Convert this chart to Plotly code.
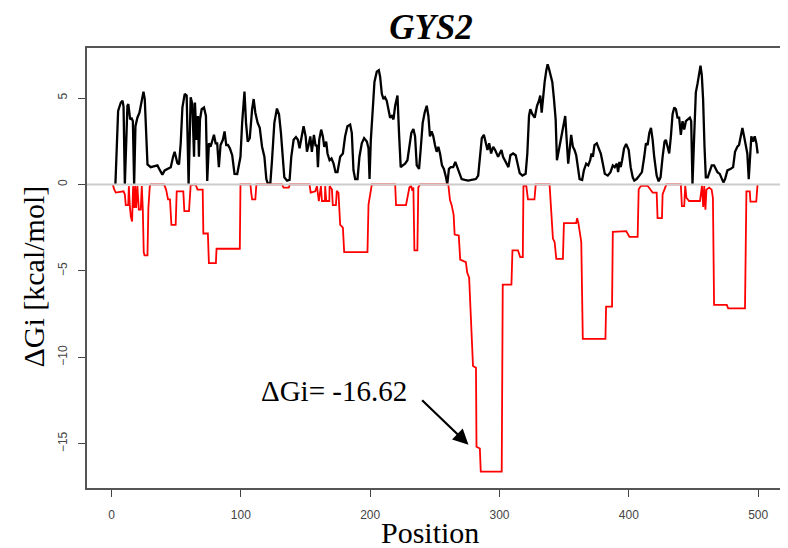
import plotly.graph_objects as go

# hydrophobic moment profile (black) and cumulative dGi profile (red)
black_pos = [3, 5.1, 7.2, 8.5, 9.3, 10.3, 12.3, 13, 14.4, 15.4, 16.5, 17.5, 18.5, 20, 21.6, 23.6, 24.7, 25.7, 26.7, 27.8,
             30.3, 32.9, 35.5, 37.5, 39.3, 41.1, 43.7, 45.8, 47.6, 48.8, 50.9, 52.2, 53.5, 54.8, 56.6, 58.1, 59.6, 61.2,
             62.5, 63.8, 64.5, 65.8, 66.8, 67.6, 68.4, 69.7, 71.5, 73, 74, 75.3, 76.6, 77.9, 79.2, 80.5, 81.7, 83, 84.3,
             86.1, 87.4, 88.7, 90, 91.5, 93.3, 95.1, 97.2, 99.7, 101, 102.8, 104, 105.3, 106.9, 108.7, 109.9, 111.2, 113,
             114.6, 116.4, 118.2, 119.7, 120.8, 122.8, 124.1, 125.9, 127.9, 129.5, 131, 132.3, 133.6, 135.7, 137.7, 139,
             140.8, 142.6, 144.1, 145.4, 146.7, 148.5, 150.1, 151.1, 152.4, 153.7, 154.9, 156.5, 157.8, 158.8, 159.6,
             160.6, 162.1, 163.4, 164.5, 166, 167, 168.6, 170.1, 171.7, 173.2, 174.7, 176.8, 178.9, 180.6, 182.4, 184.5,
             185.8, 187.1, 188.4, 190.2, 191.7, 193.5, 195.3, 197.4, 198.7, 199.5, 200.5, 202, 203.3, 205.1, 206.7, 207.7,
             209, 210.3, 211.5, 212.8, 214.1, 215.4, 216.7, 218, 219.3, 221.1, 222.3, 223.6, 225.2, 227, 228.8, 230.3,
             231.8, 233.4, 234.7, 236, 237.8, 239, 240.6, 242.1, 243.7, 245, 246.2, 247.5, 248.8, 250.1, 251.4, 252.7,
             254, 255.5, 257, 258.6, 259.6, 260.9, 262.4, 264.2, 265.8, 267.3, 268.9, 270.7, 273.2, 275.8, 278.4, 281.7,
             283.5, 284.8, 286.3, 287.9, 289.4, 290.7, 292, 293.5, 295.1, 296.6, 298.9, 300.2, 301.5, 302.7, 304, 305.3,
             306.9, 308.4, 310.5, 312.5, 314.1, 315.6, 317.7, 320.2, 321.5, 322.8, 323.8, 325.4, 327.2, 329, 330.5, 331.5,
             332.6, 333.6, 334.9, 336.2, 337.2, 338.2, 339.5, 340.8, 342.1, 343.4, 344.4, 345.9, 347.7, 349.5, 350.8,
             352.1, 353.1, 354.2, 355.4, 356.7, 358, 359.3, 360.6, 361.9, 363.9, 365.2, 367, 368.6, 370.1, 371.1, 372.2,
             373.4, 375.2, 376.8, 378.3, 379.9, 381.4, 383.7, 385.8, 387.6, 389.1, 390.7, 391.7, 392.7, 393.7, 394.8,
             396.3, 397.9, 399.9, 401.4, 403, 404.2, 406, 408.1, 410.1, 411.9, 413.2, 414.5, 415.8, 417.1, 418.4, 419.6,
             421.5, 423, 424.5, 426.1, 427.6, 428.6, 429.9, 431.2, 432.5, 433.8, 435.1, 436.4, 437.6, 438.9, 440.2, 441.5,
             442.8, 444.1, 445.6, 447.2, 448.2, 449.2, 450.5, 451.8, 453.1, 454.4, 455.4, 456.4, 457.4, 458.5, 459.5, 461,
             462.6, 464.1, 465.9, 467.2, 468.5, 470.3, 471.8, 473.1, 474.4, 476.2, 478.8, 480.6, 482.1, 483.9, 485.2,
             486.5, 487.8, 489.1, 490.3, 491.6, 492.7, 493.7, 494.7, 496, 497.3, 498.6, 499.6]
black_dg = [0, 4.25, 4.74, 4.84, 4.5, 0, 4.55, 4.65, 3.76, 3.86, 3.66, 0, 3.37, 3.86, 4.15, 4.94, 5.37, 4.94, 2.58, 1.16,
            1.0, 1.04, 1.1, 0.81, 0.57, 0.81, 0.9, 1.0, 1.6, 1.89, 1.24, 1.16, 2.38, 4.45, 5.24, 5.14, 0, 5.04,
            4.65, 1.6, 4.74, 2.58, 3.96, 1.6, 3.76, 4.35, 4.45, 3.96, 0.2, 2.38, 2.18, 2.58, 2.87, 2.38, 2.38, 1.0, 2.28,
            2.58, 3.07, 2.28, 2.28, 2.09, 1.69, 0.61, 0.6, 1.6, 3.56, 5.37, 3.56, 2.48, 2.68, 4.35, 4.94, 4.15, 3.56,
            3.27, 2.18, 1.6, 0.31, 0.06, 0.06, 1.4, 3.56, 4.39, 4.06, 2.97, 1.79, 0.41, 0.22, 0.26, 1.6,
            2.58, 2.74, 2.58, 2.09, 2.68, 3.37, 2.78, 1.89, 2.28, 2.78, 1.89, 2.87, 2.22, 2.28, 1.0,
            2.58, 3.17, 2.78, 2.18, 2.48, 1.79, 1.4, 1.5, 1.2, 0.71, 0.71, 1.6, 1.79, 2.78, 3.37, 3.46,
            2.97, 0.81, 0.31, 0.31, 1.6, 2.38, 2.68, 2.48, 2.09, 0.31, 2.58, 4.35, 5.93, 6.52, 6.61, 6.22,
            5.24, 4.94, 5.04, 4.84, 4.35, 3.86, 3.96, 3.76, 4.55, 5.14, 2.97, 1.0, 1.1, 1.2, 1.4, 2.09,
            2.97, 3.21, 2.78, 1.1, 0.9, 1.99, 3.56, 4.15, 4.55, 3.96, 2.78, 3.07, 2.78, 2.28, 1.89, 2.18,
            1.79, 1.1, 0.9, 0.41, 0.02, 0.9, 1.0, 1.0, 1.3, 1.0, 0.71, 0.31, 0.26, 0.22, 0.26, 0.31,
            0.51, 1.6, 2.68, 2.87, 2.48, 1.99, 2.38, 1.79, 2.18, 1.99, 1.6, 1.79, 1.99, 1.6, 1.4, 1.2,
            1.0, 1.69, 1.79, 1.69, 1.2, 0.65, 0.51, 0.61, 1.79, 3.96, 4.35, 4.06, 3.86, 4.55, 4.84, 5.14,
            4.15, 5.14, 5.93, 6.61, 6.95, 6.71, 6.22, 5.93, 4.94, 3.76, 1.4, 1.99, 2.78, 3.37, 3.96,
            2.38, 1.2, 1.99, 2.87, 2.18, 1.99, 1.69, 1.0, 0.31, 0.26, 0.81, 1.2, 1.1, 1.4, 1.79, 1.6,
            2.28, 2.38, 2.09, 1.79, 1.2, 0.61, 0.51, 0.71, 1.1, 1.0, 1.2, 0.71, 1.3, 1.0, 1.4,
            2.09, 2.34, 1.99, 1.0, 0.41, 0.22, 0.31, 0.51, 0.71, 1.6, 2.38, 2.28, 2.97, 3.27, 2.58, 1.6,
            0.51, 0.18, 0.41, 1.6, 2.48, 2.58, 2.09, 1.79, 2.78, 4.06, 4.45, 4.35, 3.86, 3.86, 2.87, 3.66,
            3.17, 3.66, 3.76, 3.86, 3.66, 0.02, 2.78, 5.33, 5.83, 6.52, 6.87, 6.32, 4.94, 2.18, 0.41, 0.41,
            0.81, 1.1, 1.1, 0.9, 0.71, 0.61, 0.31, 0.12, 0.31, 0.81, 0.9, 1.0, 1.89, 2.18, 2.28,
            2.87, 3.27, 2.78, 2.18, 1.79, 0.31, 1.99, 2.78, 2.48, 2.78, 2.38, 1.79]

red_pos = [1, 2, 3.3, 9.3, 10.3, 11, 12.9, 13.4, 14.1, 14.9, 15.9, 16.7, 17.5, 18.3, 19, 20, 21.1, 22.6, 23.4, 24.2,
           24.9, 25.5, 27.8, 28.5, 29.6, 30.3, 40.6, 42.2, 43.7, 45.2, 46.3, 49.6, 50.4, 55.5, 56.3, 59.9, 61.2, 65,
           66.5, 70.5, 71, 74.5, 75.3, 80.7, 81.2, 99.2, 99.7, 107.4, 108, 108.7, 111.2, 112, 131.8, 133, 137, 138,
           153.1, 154, 157.5, 158.8, 160.3, 161.9, 162.7, 165, 165.2, 166, 168.4, 168.6, 170.4, 171.1, 173.5, 174.2,
           175.5, 176.8, 178.9, 179.9, 197.9, 198.7, 200, 201.3, 219.3, 220, 227.7, 228.8, 230.3, 231.6, 232.6, 233.4,
           234.2, 236.5, 237.2, 238.5, 260.4, 261.7, 263, 264.5, 265.3, 268.5, 269.6, 274, 275, 276.5, 278.5, 279.5,
           281.8, 282.2, 284.8, 285.5, 301.7, 302.5, 309.2, 310, 314.3, 316, 318, 318.5, 320.7, 322, 327, 328, 338.7,
           341.3, 342.6, 343.9, 349, 349.8, 359.3, 360, 361, 363.2, 364.4, 381.9, 382.4, 387, 387.6, 398, 400.4, 406.8,
           407.6, 409.4, 414.5, 418.4, 421.5, 422.2, 425.6, 426.1, 428.6, 429, 440.2, 441, 442.8, 443.6, 444.5, 446.6,
           455, 456.5, 457.5, 458.3, 459.2, 460, 462.1, 464, 465, 465.9, 475.7, 476.8, 489.8, 490.9, 493.5, 494,
           498.5, 499.5]
red_dg = [0, -0.28, -0.47, -0.4, -0.57, -1.2, -1.2, -0.1, -1.2, -1.85, -2.15, -0.1, -1.36, -0.1, -1.36, -0.1, -1.46,
          -1.46, -0.1, -1.46, -3.92, -4.1, -4.1, -1.36, -0.1, 0, 0, -0.3, -0.87, -0.87, -2.34, -2.34, -0.4, -0.4, -1.55,
          -1.55, -0.05, 0, -0.3, -0.3, -2.84, -2.84, -4.55, -4.55, -3.72, -3.72, 0, 0, -0.47, -0.87, -0.87, 0, 0,
          -0.18, -0.18, 0, 0, -0.47, -0.4, -0.1, -0.96, -0.1, -0.96, -0.96, -0.1, -0.96, -0.96, -0.1, -0.28, -1.2,
          -1.2, -0.37, -0.5, -2.34, -2.5, -3.92, -3.92, -1.16, -0.57, 0, 0, -1.2, -1.2, -0.77, -0.18, -0.08, -0.37,
          -0.18, -3.82, -3.82, -0.18, 0, 0, -0.9, -1.2, -1.75, -2.9, -2.95, -4.35, -4.5, -5.1, -5.4, -9.4, -10.5,
          -10.6, -15.18, -15.28, -16.62, -16.62, -5.8, -5.8, -3.82, -3.82, -4.21, -4.21, -0.08, -0.08, -0.87, -0.87, 0,
          0, -3.13, -3.33, -4.31, -4.31, -2.24, -2.24, -1.95, -2.24, -3.33, -8.94, -8.94, -7.07, -7.07, -2.74, -2.7,
          -3.03, -3.03, -0.28, -0.08, -0.08, -0.47, -0.47, -1.95, -1.95, -0.57, -0.08, 0, 0, -1.26, -1.26, -0.08,
          -0.77, -0.96, -0.96, -0.08, -1.3, -0.1, -1.46, -0.3, -0.18, -0.3, -0.77, -6.97, -6.97, -7.17, -7.17, -0.4,
          -0.4, -1.0, -1.0, 0]

x_ticks = [0, 100, 200, 300, 400, 500]
y_ticks = [-15, -10, -5, 0, 5]
min_dg = -16.62
min_pos = 276.0

# R style 4% padding around the data
x_lo, x_hi = 1, 500
y_lo, y_hi = min(red_dg), max(black_dg)
xpad = (x_hi - x_lo) * 0.04
ypad = (y_hi - y_lo) * 0.04

# page body keeps an 8px margin, so the figure is a bit smaller and its margins shrink by 8
W, H = 780, 540

fig = go.Figure()
fig.add_trace(go.Scatter(x=black_pos, y=black_dg, mode='lines',
                         line=dict(color='black', width=2.3), showlegend=False))
fig.add_trace(go.Scatter(x=red_pos, y=red_dg, mode='lines',
                         line=dict(color='#ff0000', width=1.8), showlegend=False))

# zero line drawn over the profiles
fig.add_shape(type='line', xref='paper', x0=0, x1=1, yref='y', y0=0, y1=0,
              line=dict(color='#cccccc', width=2), layer='above')

serif = 'Liberation Serif, Times New Roman, serif'
sans = 'Liberation Sans, Arial, sans-serif'

fig.add_annotation(x=min_pos, y=-15.06, ax=239, ay=-12.4, axref='x', ayref='y',
                   text='', showarrow=True, arrowhead=2, arrowsize=1.4, arrowwidth=2.2,
                   arrowcolor='black', standoff=0, startstandoff=0)
fig.add_annotation(x=172, y=-11.93, text='ΔGi= ' + f'{min_dg:.2f}', showarrow=False,
                   font=dict(family=serif, size=29, color='black'))
fig.add_annotation(x=0.492, y=-0.102, xref='paper', yref='paper', text='Position', showarrow=False,
                   font=dict(family=serif, size=30, color='black'), yanchor='middle')
fig.add_annotation(x=-0.0773, y=0.481, xref='paper', yref='paper', text='ΔGi [kcal/mol]', showarrow=False,
                   textangle=-90, font=dict(family=serif, size=30, color='black'), xanchor='center')

fig.update_layout(
    width=W, height=H,
    margin=dict(l=79, r=2, t=40, b=60),
    paper_bgcolor='white', plot_bgcolor='white',
    title=dict(text='<b><i>GYS2</i></b>', x=423 / W, xref='container', xanchor='center',
               y=1 - 19 / H, yref='container', yanchor='middle',
               font=dict(family=serif, size=35, color='black')),
)
fig.update_xaxes(range=[x_lo - xpad, x_hi + xpad], tickvals=x_ticks, ticks='outside', ticklen=7,
                 tickcolor='#444', showgrid=False, zeroline=False, showline=True, mirror=True,
                 linecolor='#555', linewidth=1.5, ticklabelstandoff=8,
                 tickfont=dict(family=sans, size=12, color='#444'))
fig.update_yaxes(range=[y_lo - ypad, y_hi + ypad], tickvals=y_ticks, ticks='outside', ticklen=7,
                 tickcolor='#444', showgrid=False, zeroline=False, showline=True, mirror=True,
                 linecolor='#555', linewidth=1.5, tickangle=-90, ticklabelstandoff=6,
                 tickfont=dict(family=sans, size=12, color='#444'))

fig.write_html('out.html')
